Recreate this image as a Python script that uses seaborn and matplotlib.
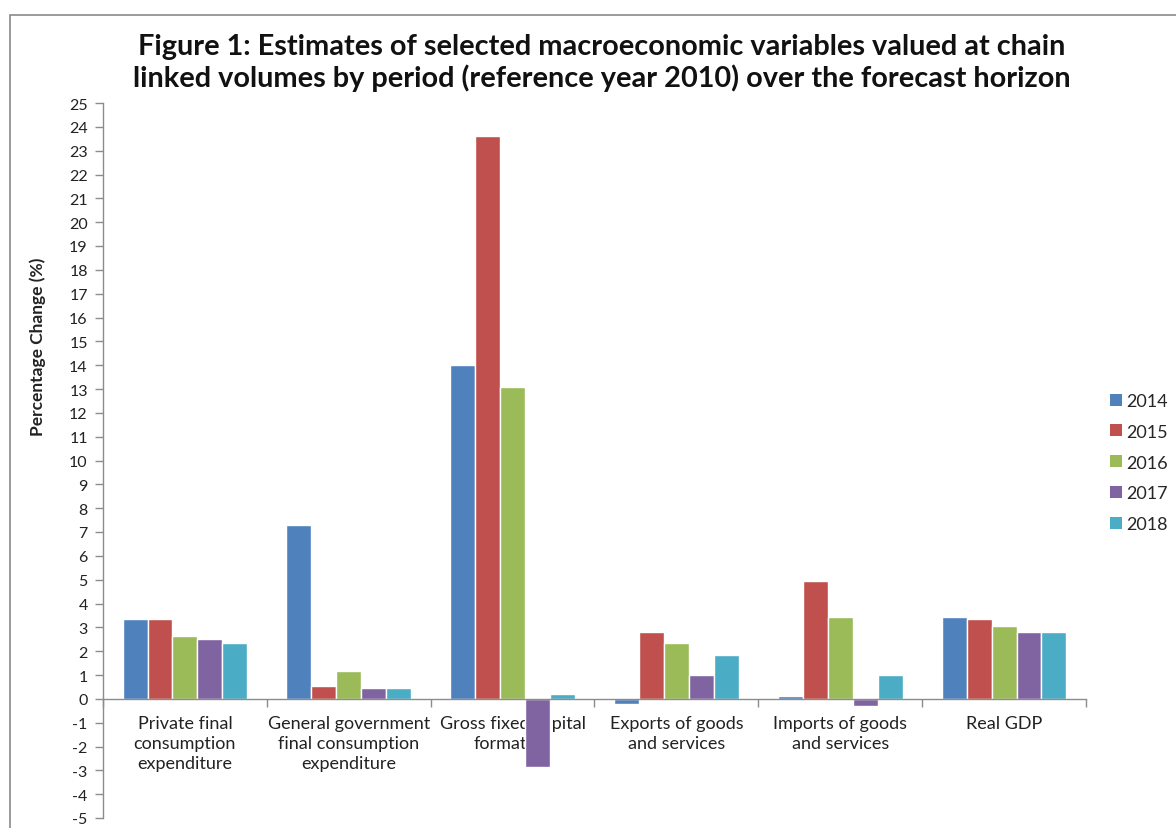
import matplotlib
matplotlib.use("Agg")
import matplotlib.pyplot as plt
import matplotlib.patches as mpatches
import seaborn as sns
import pandas as pd

categories = [
    "Private final\nconsumption\nexpenditure",
    "General government\nfinal consumption\nexpenditure",
    "Gross fixed capital\nformation",
    "Exports of goods\nand services",
    "Imports of goods\nand services",
    "Real GDP",
]
years = ["2014", "2015", "2016", "2017", "2018"]
v2014 = [3.35, 7.3, 14.0, -0.2, 0.1, 3.45]
v2015 = [3.35, 0.55, 23.6, 2.8, 4.95, 3.35]
v2016 = [2.65, 1.15, 13.1, 2.35, 3.45, 3.05]
v2017 = [2.5, 0.45, -2.85, 1.0, -0.3, 2.8]
v2018 = [2.35, 0.45, 0.2, 1.85, 1.0, 2.8]
colors = ["#4F81BD", "#C0504D", "#9BBB59", "#8064A2", "#4BACC6"]

series = [v2014, v2015, v2016, v2017, v2018]
rows = []
for y, vals in zip(years, series):
    for c, v in zip(categories, vals):
        rows.append({"category": c, "year": y, "value": v})
df = pd.DataFrame(rows)

sns.set_theme(style="white")
plt.rcParams["font.family"] = ["Lato", "DejaVu Sans"]

fig = plt.figure(figsize=(11.76, 8.29), dpi=100)
ax = fig.add_axes([103 / 1176, 10 / 829, (1086 - 103) / 1176, (819 - 104) / 829])

sns.barplot(data=df, x="category", y="value", hue="year", order=categories,
            hue_order=years, palette=colors, width=0.76, edgecolor="white",
            linewidth=1.0, saturation=1, ax=ax, legend=False)

ax.set_xlim(-0.5, 5.5)
ax.set_ylim(-5, 25)
ax.set_yticks(range(-5, 26))
ax.set_yticklabels([str(i) for i in range(-5, 26)], fontsize=11.5, color="#222222")

for s in ["top", "right"]:
    ax.spines[s].set_visible(False)
ax.spines["bottom"].set_position(("data", 0))
ax.spines["bottom"].set_color("#8c8c8c")
ax.spines["left"].set_color("#8c8c8c")
ax.spines["bottom"].set_linewidth(1.0)
ax.spines["left"].set_linewidth(1.0)

ax.tick_params(axis="y", which="major", direction="out", length=6, width=1,
               color="#8c8c8c", left=True, pad=5)
ax.set_xticks(range(len(categories)))
ax.set_xticklabels(categories, fontsize=13, color="#222222", linespacing=1.28)
ax.set_xticks([i - 0.5 for i in range(len(categories) + 1)], minor=True)
ax.tick_params(axis="x", which="major", length=0, pad=12)
ax.tick_params(axis="x", which="minor", direction="out", length=6, width=1,
               color="#8c8c8c", bottom=True)
ax.set_xlabel("")
ax.set_ylabel("Percentage Change (%)", fontsize=12.5, fontweight="bold",
              color="#222222")
ax.yaxis.set_label_coords(-0.058, 0.66)

fig.suptitle("Figure 1: Estimates of selected macroeconomic variables valued at chain\n"
             "linked volumes by period (reference year 2010) over the forecast horizon",
             x=0.512, y=0.959, fontsize=20.8, fontweight="bold", color="#111111",
             linespacing=1.2)

handles = [mpatches.Patch(facecolor=c, edgecolor="none", label=y) for c, y in zip(colors, years)]
fig.legend(handles=handles, loc="upper left", bbox_to_anchor=(1110 / 1176, 1 - 394 / 829),
           frameon=False, fontsize=13, handlelength=0.65, handleheight=0.65,
           handletextpad=0.25, labelspacing=0.82, borderaxespad=0, borderpad=0)

frame = mpatches.Rectangle((10 / 1176, -0.1), 1.2, 1 - 16 / 829 + 0.1,
                           transform=fig.transFigure, fill=False,
                           edgecolor="#8a8a8a", linewidth=1.2)
fig.patches.append(frame)

fig.savefig("out.png", dpi=100)
